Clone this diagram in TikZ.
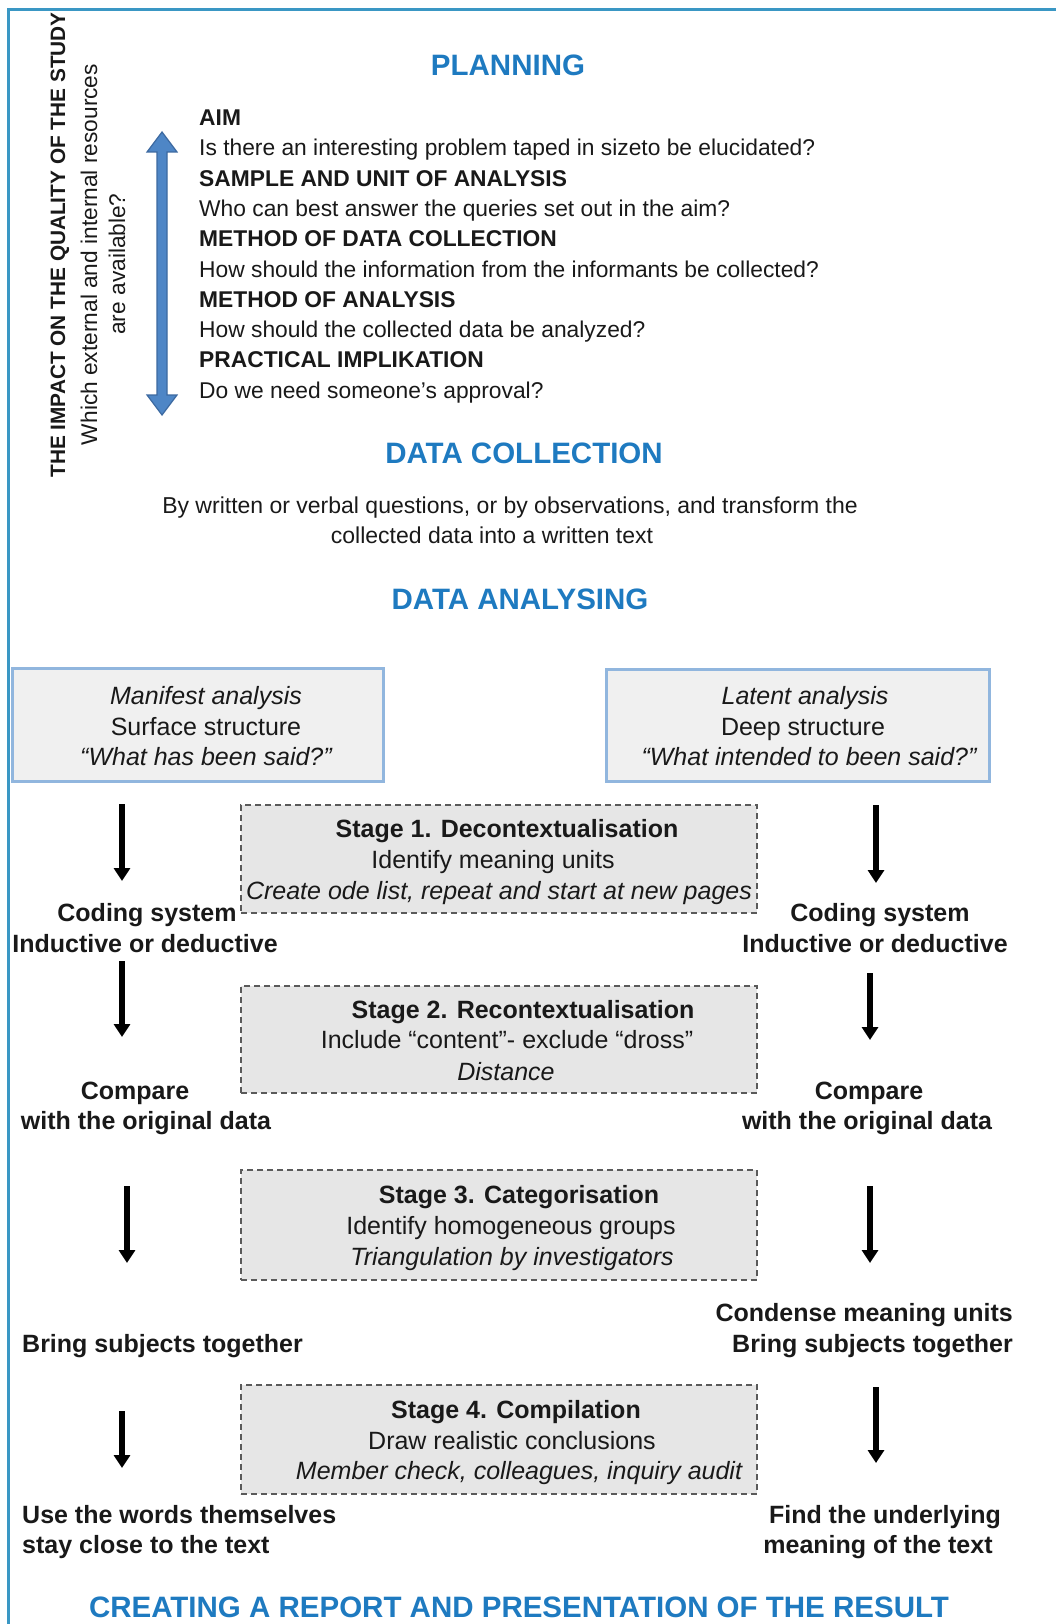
\documentclass[tikz,border=0pt]{standalone}
\usepackage{fontspec}
\setmainfont{Liberation Sans}
\usetikzlibrary{arrows.meta}
\definecolor{frameblue}{RGB}{58,151,196}
\definecolor{headblue}{RGB}{30,122,192}
\definecolor{boxblue}{RGB}{145,182,222}
\definecolor{boxfill}{RGB}{240,240,240}
\definecolor{stagefill}{RGB}{230,230,230}
\definecolor{stageedge}{RGB}{90,90,90}
\definecolor{arrowfill}{RGB}{78,134,198}
\definecolor{arrowedge}{RGB}{60,105,160}
\definecolor{ink}{RGB}{25,25,25}
\begin{document}
\begin{tikzpicture}[x=1pt,y=-1pt,
  plan/.style={font=\fontsize{22.8}{27}\selectfont, text=ink, anchor=base west, inner sep=0pt},
  planb/.style={plan, font=\fontsize{22.8}{27}\selectfont\bfseries},
  head/.style={font=\fontsize{29.5}{35}\selectfont\bfseries, text=headblue, anchor=base, inner sep=0pt},
  body/.style={font=\fontsize{23}{28}\selectfont, text=ink, anchor=base, inner sep=0pt},
  lbl/.style={font=\fontsize{25}{30}\selectfont\bfseries, text=ink, anchor=base, inner sep=0pt},
  txt/.style={font=\fontsize{25}{30}\selectfont, text=ink, anchor=base, inner sep=0pt},
  itx/.style={txt, font=\fontsize{25}{30}\selectfont\itshape},
  side/.style={font=\fontsize{22.7}{27}\selectfont, text=ink, rotate=90, inner sep=0pt},
  analysisbox/.style={draw=boxblue, line width=3pt, fill=boxfill, inner sep=0pt},
  stagebox/.style={draw=stageedge, line width=1.4pt, dash pattern=on 6pt off 4pt, fill=stagefill, inner sep=0pt},
  flow/.style={draw=black, line width=5.5pt, -{Triangle[width=16pt,length=13pt]}}
]
\useasboundingbox (0,0) rectangle (1056,1624);

% outer frame (top and left edges)
\coordinate (frtr) at (1056,9.5);
\coordinate (frtl) at (8,9.5);
\coordinate (frbl) at (8,1624);
\draw[frameblue, line width=3pt] (frtr) -- (frtl) -- (frbl);

% side captions
\node[side, font=\fontsize{20.8}{25}\selectfont\bfseries] (impact) at (60,245) {THE IMPACT ON THE QUALITY OF THE STUDY};
\node[side] (res1) at (89,254.5) {Which external and internal resources};
\node[side] (res2) at (117,264) {are available?};

% double-headed blue arrow
\coordinate (pt) at (162,132);
\coordinate (pb) at (162,415);
\filldraw[fill=arrowfill, draw=arrowedge, line width=1.2pt]
  (pt) -- ++(15,20) -- ++(-10,0) -- ++(0,243) -- ++(10,0) -- (pb)
  -- ++(-15,-20) -- ++(10,0) -- ++(0,-243) -- ++(-10,0) -- cycle;

% planning
\node[head] (planning) at (508,76) {PLANNING};
\node[planb] (aim)  at (199,126) {AIM};
\node[plan]  (aimq) at (199,156) {Is there an interesting problem taped in sizeto be elucidated?};
\node[planb] (smp)  at (199,186) {SAMPLE AND UNIT OF ANALYSIS};
\node[plan]  (smpq) at (199,216) {Who can best answer the queries set out in the aim?};
\node[planb] (mdc)  at (199,246) {METHOD OF DATA COLLECTION};
\node[plan]  (mdcq) at (199,277) {How should the information from the informants be collected?};
\node[planb] (moa)  at (199,307) {METHOD OF ANALYSIS};
\node[plan]  (moaq) at (199,337) {How should the collected data be analyzed?};
\node[planb] (pim)  at (199,367) {PRACTICAL IMPLIKATION};
\node[plan]  (pimq) at (199,398) {Do we need someone’s approval?};

% data collection
\node[head] (dcol) at (524,463) {DATA COLLECTION};
\node[body] (dc1) at (510,513) {By written or verbal questions, or by observations, and transform the};
\node[body] (dc2) at (492,543) {collected data into a written text};

% data analysing
\node[head] (dana) at (520,609) {DATA ANALYSING};

% manifest / latent boxes
\node[analysisbox, minimum width=371pt, minimum height=113pt] (manbox) at (197.5,724.5) {};
\node[itx] (man1) at (206,704) {Manifest analysis};
\node[txt] (man2) at (206,735) {Surface structure};
\node[itx] (man3) at (206,765) {“What has been said?”};

\node[analysisbox, minimum width=383pt, minimum height=112pt] (latbox) at (797.5,725) {};
\node[itx] (lat1) at (805,704) {Latent analysis};
\node[txt] (lat2) at (803,735) {Deep structure};
\node[itx] (lat3) at (809,765) {“What intended to been said?”};

% stage boxes
\node[stagebox, minimum width=516pt, minimum height=108pt] (s1box) at (499,859) {};
\node[lbl] (s1a) at (507,837) {Stage 1. Decontextualisation};
\node[txt] (s1b) at (493,868) {Identify meaning units};
\node[itx] (s1c) at (499,899) {Create ode list, repeat and start at new pages};

\node[stagebox, minimum width=516pt, minimum height=107pt] (s2box) at (499,1039.5) {};
\node[lbl] (s2a) at (523,1018) {Stage 2. Recontextualisation};
\node[txt] (s2b) at (507,1048) {Include “content”- exclude “dross”};
\node[itx] (s2c) at (506,1080) {Distance};

\node[stagebox, minimum width=516pt, minimum height=110pt] (s3box) at (499,1225) {};
\node[lbl] (s3a) at (519,1203) {Stage 3. Categorisation};
\node[txt] (s3b) at (511,1234) {Identify homogeneous groups};
\node[itx] (s3c) at (512,1265) {Triangulation by investigators};

\node[stagebox, minimum width=516pt, minimum height=109pt] (s4box) at (499,1439.5) {};
\node[lbl] (s4a) at (516,1418) {Stage 4. Compilation};
\node[txt] (s4b) at (512,1449) {Draw realistic conclusions};
\node[itx] (s4c) at (519,1479) {Member check, colleagues, inquiry audit};

% left column labels
\node[lbl] (lcod1) at (147,921) {Coding system};
\node[lbl] (lcod2) at (145,952) {Inductive or deductive};
\node[lbl] (lcmp1) at (135,1099) {Compare};
\node[lbl] (lcmp2) at (146,1129) {with the original data};
\node[lbl, anchor=base west] (lbring) at (22,1352) {Bring subjects together};
\node[lbl, anchor=base west] (luse1) at (22,1523) {Use the words themselves};
\node[lbl, anchor=base west] (luse2) at (22,1553) {stay close to the text};

% right column labels
\node[lbl] (rcod1) at (880,921) {Coding system};
\node[lbl] (rcod2) at (875,952) {Inductive or deductive};
\node[lbl] (rcmp1) at (869,1099) {Compare};
\node[lbl] (rcmp2) at (867,1129) {with the original data};
\node[lbl, anchor=base east] (rcon1) at (1013,1321) {Condense meaning units};
\node[lbl, anchor=base east] (rcon2) at (1013,1352) {Bring subjects together};
\node[lbl] (rfind1) at (885,1523) {Find the underlying};
\node[lbl] (rfind2) at (878,1553) {meaning of the text};

% flow arrows, left column
\coordinate (la1) at (122,804);  \coordinate (lb1) at (122,881);
\coordinate (la2) at (122,961);  \coordinate (lb2) at (122,1037);
\coordinate (la3) at (127,1186); \coordinate (lb3) at (127,1263);
\coordinate (la4) at (122,1411); \coordinate (lb4) at (122,1468);
\draw[flow] (la1) -- (lb1);
\draw[flow] (la2) -- (lb2);
\draw[flow] (la3) -- (lb3);
\draw[flow] (la4) -- (lb4);

% flow arrows, right column
\coordinate (ra1) at (876,805);  \coordinate (rb1) at (876,883);
\coordinate (ra2) at (870,973);  \coordinate (rb2) at (870,1040);
\coordinate (ra3) at (870,1186); \coordinate (rb3) at (870,1263);
\coordinate (ra4) at (876,1387); \coordinate (rb4) at (876,1463);
\draw[flow] (ra1) -- (rb1);
\draw[flow] (ra2) -- (rb2);
\draw[flow] (ra3) -- (rb3);
\draw[flow] (ra4) -- (rb4);

% closing heading
\node[head] (report) at (519,1617) {CREATING A REPORT AND PRESENTATION OF THE RESULT};
\end{tikzpicture}
\end{document}
